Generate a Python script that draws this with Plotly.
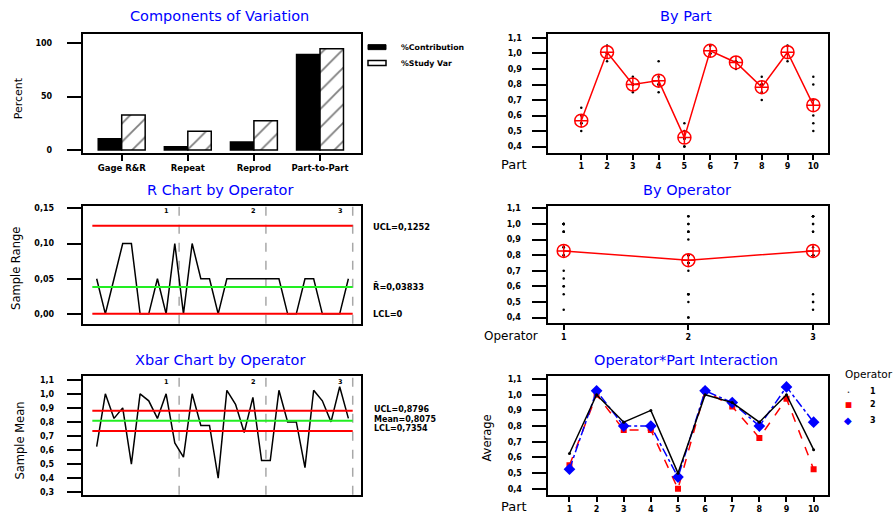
import plotly.graph_objects as go

W, H = 896, 516

# ---------------- data ----------------
parts = [1, 2, 3, 4, 5, 6, 7, 8, 9, 10]
operators = [1, 2, 3]

op1_trial1 = [0.65, 1.00, 0.85, 0.85, 0.55, 1.00, 0.95, 0.85, 1.00, 0.60]
op1_trial2 = [0.60, 1.00, 0.80, 0.95, 0.45, 1.00, 0.95, 0.80, 1.00, 0.70]
op2_trial1 = [0.55, 1.05, 0.80, 0.80, 0.40, 1.00, 0.95, 0.75, 1.00, 0.55]
op2_trial2 = [0.55, 0.95, 0.75, 0.75, 0.40, 1.05, 0.90, 0.70, 0.95, 0.50]
op3_trial1 = [0.50, 1.05, 0.80, 0.80, 0.45, 1.00, 0.95, 0.80, 1.05, 0.85]
op3_trial2 = [0.55, 1.00, 0.80, 0.80, 0.50, 1.05, 0.95, 0.80, 1.05, 0.80]

part_means = [0.567, 1.008, 0.800, 0.825, 0.458, 1.017, 0.942, 0.783, 1.008, 0.667]
operator_means = [0.8275, 0.7675, 0.8275]

op1_avg = [0.625, 1.000, 0.825, 0.900, 0.500, 1.000, 0.950, 0.825, 1.000, 0.650]
op2_avg = [0.550, 1.000, 0.775, 0.775, 0.400, 1.025, 0.925, 0.725, 0.975, 0.525]
op3_avg = [0.525, 1.025, 0.800, 0.800, 0.475, 1.025, 0.950, 0.800, 1.050, 0.825]

op1_range = [0.05, 0.00, 0.05, 0.10, 0.10, 0.00, 0.00, 0.05, 0.00, 0.10]
op2_range = [0.00, 0.10, 0.05, 0.05, 0.00, 0.05, 0.05, 0.05, 0.05, 0.05]
op3_range = [0.05, 0.05, 0.00, 0.00, 0.05, 0.05, 0.00, 0.00, 0.00, 0.05]

components = ["Gage R&R", "Repeat", "Reprod", "Part-to-Part"]
pct_contribution = [10.67, 3.10, 7.56, 89.33]
pct_study_var = [32.66, 17.62, 27.50, 94.52]

r_ucl, r_bar, r_lcl = 0.1252, 0.03833, 0.0
xbar_ucl, xbar_mean, xbar_lcl = 0.8796, 0.8075, 0.7354
limit_labels_r = ["UCL=0,1252", "R\u0304=0,03833", "LCL=0"]
limit_labels_x = ["UCL=0,8796", "Mean=0,8075", "LCL=0,7354"]

# ---------------- derived arrangements ----------------
xbar_values = op1_avg + op2_avg + op3_avg
r_values = op1_range + op2_range + op3_range
n_sub = len(r_values)
sample_idx = list(range(1, n_sub + 1))
group_size = len(parts)
boundaries = [group_size * (k + 1) + 0.5 for k in range(len(operators))]

all_trials = [op1_trial1, op1_trial2, op2_trial1, op2_trial2, op3_trial1, op3_trial2]
obs_part_x = [p for t in all_trials for p in parts]
obs_part_y = [v for t in all_trials for v in t]
obs_op_x = [operators[i // 2] for i, t in enumerate(all_trials) for _ in t]
obs_op_y = obs_part_y

# ---------------- helpers ----------------
FONT = "DejaVu Sans"
BLUE = "#0000FF"


def xd(a, b):
    return [a / W, b / W]


def yd(top, bottom):
    return [1 - bottom / H, 1 - top / H]


def px(x):
    return x / W


def py(y):
    return 1 - y / H


fig = go.Figure()

# Panel 1: components of variation
fig.add_trace(go.Bar(x=components, y=pct_contribution, name="%Contribution",
                     marker=dict(color="black", line=dict(color="black", width=1.5)),
                     xaxis="x", yaxis="y", showlegend=False))
fig.add_trace(go.Bar(x=components, y=pct_study_var, name="%Study Var",
                     marker=dict(color="white", line=dict(color="black", width=1.5),
                                 pattern=dict(shape="/", fgcolor="black", bgcolor="white",
                                              size=13, solidity=0.14)),
                     xaxis="x", yaxis="y", showlegend=False))

# Panel 2: by part
fig.add_trace(go.Scatter(x=obs_part_x, y=obs_part_y, mode="markers",
                         marker=dict(color="black", size=2.5), xaxis="x2", yaxis="y2",
                         showlegend=False))
fig.add_trace(go.Scatter(x=parts, y=part_means, mode="lines+markers",
                         line=dict(color="red", width=1.5),
                         marker=dict(symbol="circle-cross-open", size=13, color="red",
                                     line=dict(width=1.5, color="red")),
                         xaxis="x2", yaxis="y2", showlegend=False))

# Panel 3: R chart
fig.add_trace(go.Scatter(x=sample_idx, y=r_values, mode="lines",
                         line=dict(color="black", width=1.5), xaxis="x3", yaxis="y3",
                         showlegend=False))
for val, col in [(r_ucl, "red"), (r_bar, "#22EE22"), (r_lcl, "red")]:
    fig.add_trace(go.Scatter(x=[0.5, n_sub + 0.5], y=[val, val], mode="lines",
                             line=dict(color=col, width=2), xaxis="x3", yaxis="y3",
                             showlegend=False))

# Panel 4: by operator
fig.add_trace(go.Scatter(x=obs_op_x, y=obs_op_y, mode="markers",
                         marker=dict(color="black", size=2.5), xaxis="x4", yaxis="y4",
                         showlegend=False))
fig.add_trace(go.Scatter(x=operators, y=operator_means, mode="lines+markers",
                         line=dict(color="red", width=1.5),
                         marker=dict(symbol="circle-cross-open", size=13, color="red",
                                     line=dict(width=1.5, color="red")),
                         xaxis="x4", yaxis="y4", showlegend=False))

# Panel 5: Xbar chart
fig.add_trace(go.Scatter(x=sample_idx, y=xbar_values, mode="lines",
                         line=dict(color="black", width=1.5), xaxis="x5", yaxis="y5",
                         showlegend=False))
for val, col in [(xbar_ucl, "red"), (xbar_mean, "#22EE22"), (xbar_lcl, "red")]:
    fig.add_trace(go.Scatter(x=[0.5, n_sub + 0.5], y=[val, val], mode="lines",
                             line=dict(color=col, width=2), xaxis="x5", yaxis="y5",
                             showlegend=False))

# Panel 6: interaction
fig.add_trace(go.Scatter(x=parts, y=op2_avg, mode="lines+markers",
                         line=dict(color="red", width=1.5, dash="dash"),
                         marker=dict(symbol="square", size=6, color="red"),
                         xaxis="x6", yaxis="y6", showlegend=False))
fig.add_trace(go.Scatter(x=parts, y=op3_avg, mode="lines+markers",
                         line=dict(color="blue", width=1.5, dash="dashdot"),
                         marker=dict(symbol="diamond", size=9, color="blue"),
                         xaxis="x6", yaxis="y6", showlegend=False))
fig.add_trace(go.Scatter(x=parts, y=op1_avg, mode="lines+markers",
                         line=dict(color="black", width=1.5),
                         marker=dict(symbol="circle", size=3, color="black"),
                         xaxis="x6", yaxis="y6", showlegend=False))

# ---------------- axes ----------------
tickfont = dict(family=FONT, size=8, color="black", weight="bold")


def yax(domain, rng, tickvals, fmt, anchor, standoff):
    return dict(domain=domain, range=rng, tickvals=tickvals, tickformat=fmt,
                anchor=anchor, showline=True, mirror=True, linecolor="black",
                linewidth=2, ticks="outside", ticklen=14, tickwidth=2,
                tickcolor="black", showgrid=False, zeroline=False,
                tickfont=tickfont, ticklabelstandoff=standoff)


def xax(domain, rng, anchor, tickvals=None, show=True, ticktext=None):
    d = dict(domain=domain, range=rng, anchor=anchor, showline=True, mirror=True,
             linecolor="black", linewidth=2, showgrid=False, zeroline=False,
             tickfont=tickfont)
    if show:
        d.update(ticks="outside", ticklen=5, tickwidth=1.5, tickcolor="black")
        if tickvals is not None:
            d.update(tickvals=tickvals)
        if ticktext is not None:
            d.update(ticktext=ticktext)
    else:
        d.update(ticks="", showticklabels=False)
    return d


L1, R1 = 82.7, 361.0
L2, R2 = 547.5, 828.0

fig.update_layout(
    xaxis=dict(xax(xd(L1, R1), [-0.59, 3.62], "y"), type="category",
               tickfont=dict(family=FONT, size=8.5, color="black", weight="bold"), ticklen=6),
    yaxis=yax(yd(32.3, 152.3), [-2.8, 108.3], [0, 50, 100], "d", "x", 13),
    xaxis2=xax(xd(L2, R2), [-0.31, 10.57], "y2", tickvals=parts),
    yaxis2=yax(yd(32.3, 151.7), [0.362, 1.125], [0.4, 0.5, 0.6, 0.7, 0.8, 0.9, 1.0, 1.1], ".1f", "x2", 8),
    xaxis3=xax(xd(L1, R1 - 0.3), [-0.61, 31.42], "y3", show=False),
    yaxis3=yax(yd(205.3, 324.3), [-0.0141, 0.1538], [0, 0.05, 0.10, 0.15], ".2f", "x3", 11),
    xaxis4=xax(xd(L2, R2), [0.87, 3.12], "y4", tickvals=operators),
    yaxis4=yax(yd(205.3, 323.7), [0.364, 1.117], [0.4, 0.5, 0.6, 0.7, 0.8, 0.9, 1.0, 1.1], ".1f", "x4", 9),
    xaxis5=xax(xd(L1, R1 - 0.3), [-0.61, 31.42], "y5", show=False),
    yaxis5=yax(yd(377.3, 496.7), [0.281, 1.124], [0.3, 0.4, 0.5, 0.6, 0.7, 0.8, 0.9, 1.0, 1.1], ".1f", "x5", 11),
    xaxis6=xax(xd(L2, R2), [0.19, 10.53], "y6", tickvals=parts),
    yaxis6=yax(yd(377.3, 497.3), [0.358, 1.117], [0.4, 0.5, 0.6, 0.7, 0.8, 0.9, 1.0, 1.1], ".1f", "x6", 8),
)

# ---------------- annotations ----------------
ann = []


def txt(x, y, s, size, color="black", xanchor="center", yanchor="middle", angle=0,
        xref="paper", yref="paper", weight="normal"):
    ann.append(dict(x=x, y=y, xref=xref, yref=yref, text=s, showarrow=False,
                    xanchor=xanchor, yanchor=yanchor, textangle=angle,
                    font=dict(family=FONT, size=size, color=color, weight=weight)))


# titles
txt(px(219), py(14.5), "Components of Variation", 14.5, BLUE)
txt(px(686), py(14.5), "By Part", 14.5, BLUE)
txt(px(220), py(189), "R Chart by Operator", 14.5, BLUE)
txt(px(687), py(189), "By Operator", 14.5, BLUE)
txt(px(220), py(361), "Xbar Chart by Operator", 14.5, BLUE)
txt(px(686), py(361), "Operator*Part Interaction", 14.5, BLUE)

# axis titles
txt(px(18), py(97), "Percent", 11, angle=-90)
txt(px(16), py(269), "Sample Range", 11.5, angle=-90)
txt(px(20), py(442), "Sample Mean", 11.5, angle=-90)
txt(px(487), py(440), "Average", 11.5, angle=-90)
txt(px(513.5), py(164), "Part", 13)
txt(px(511), py(337), "Operator", 12)
txt(px(513.5), py(508), "Part", 13)

# control limit labels
for s, yy in zip(limit_labels_r, [226.3, 287.0, 314.3]):
    txt(px(371), py(yy), s, 8.3, xanchor="left", weight="bold")
for s, yy in zip(limit_labels_x, [411.0, 420.5, 430.0]):
    txt(px(371.5), py(yy), s, 8.0, xanchor="left", weight="bold")

# operator group labels on the top of the control charts
for k, b in enumerate(boundaries):
    for xr, top in [("x3", 205.0), ("x5", 377.0)]:
        txt(b - 1.4, py(top), str(operators[k]), 6.5, xanchor="center", yanchor="top",
            xref=xr, weight="bold")

# components legend
txt(px(399), py(45.5), "%Contribution", 7.8, xanchor="left", weight="bold")
txt(px(399), py(61.5), "%Study Var", 7.8, xanchor="left", weight="bold")

# interaction legend
txt(px(843), py(375), "Operator", 10.5, xanchor="left")
txt(px(848.3), py(392.7), "\u2022", 5)
txt(px(848.3), py(406), "\u25A0", 7.5, color="red")
txt(px(848.3), py(421.7), "\u25C6", 10, color="blue")
for s, yy in zip(["1", "2", "3"], [392.7, 406, 421.7]):
    txt(px(873.3), py(yy), s, 8, weight="bold")

# ---------------- shapes ----------------
shapes = []
for b in boundaries:
    for xr, yr in [("x3", "y3 domain"), ("x5", "y5 domain")]:
        shapes.append(dict(type="line", xref=xr, yref=yr, x0=b, x1=b, y0=0, y1=1,
                           line=dict(color="#A8A8A8", width=1.5, dash="dash"),
                           layer="below"))
shapes.append(dict(type="rect", xref="paper", yref="paper", x0=px(368), x1=px(386),
                   y0=py(48), y1=py(43), fillcolor="black", line=dict(color="black", width=1)))
shapes.append(dict(type="rect", xref="paper", yref="paper", x0=px(368), x1=px(386),
                   y0=py(64), y1=py(59), fillcolor="white", line=dict(color="black", width=1.5)))

fig.update_layout(
    width=W, height=H, margin=dict(l=0, r=0, t=0, b=0),
    paper_bgcolor="white", plot_bgcolor="white",
    separators=", ", barmode="group", bargap=0.29, bargroupgap=0,
    annotations=ann, shapes=shapes, showlegend=False,
    font=dict(family=FONT, color="black"),
)

fig.write_html("out.html")
